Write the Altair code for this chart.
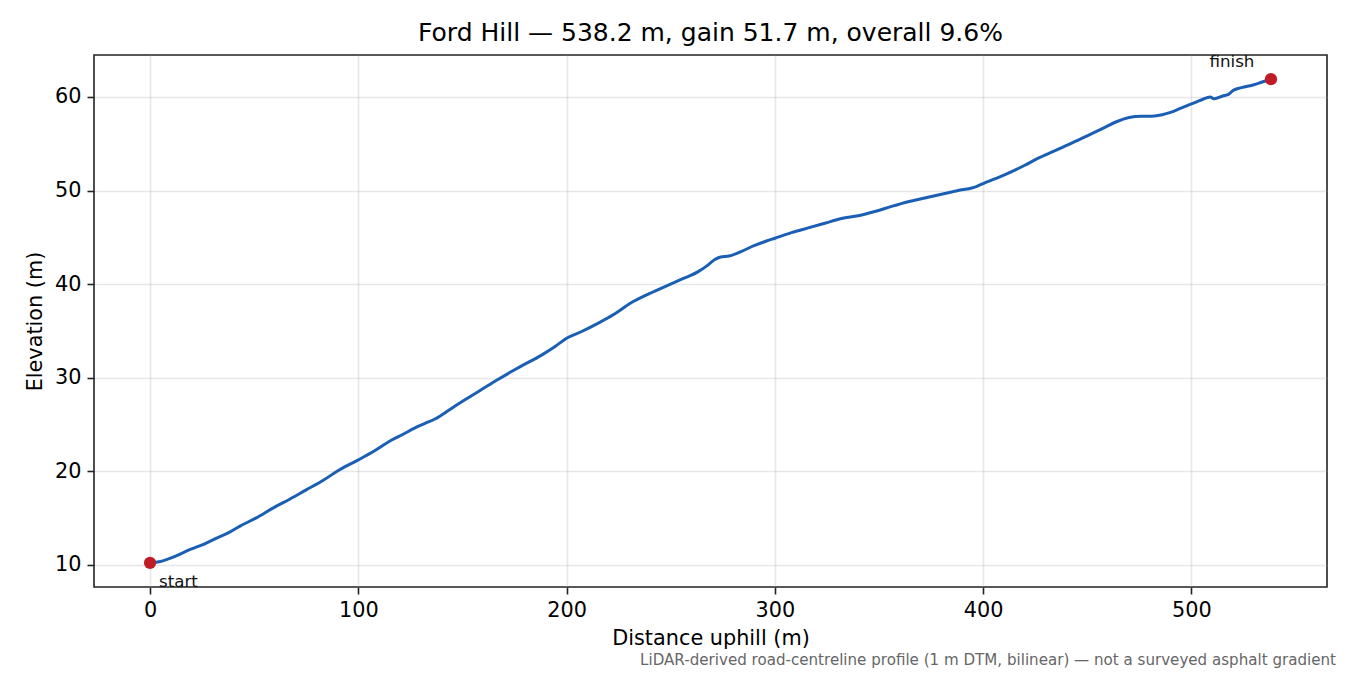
import pandas as pd
import altair as alt

# distance along the road (m) and elevation (m)
distance = [0, 5, 12, 19, 26, 32, 38, 43, 51, 59, 67, 75, 83, 91, 100, 108, 115,
            122, 127, 132, 137, 144, 151, 159, 167, 174, 178, 188, 195, 200, 207,
            215, 223, 231, 239, 247, 255, 263, 268, 271, 274, 278, 284, 290, 296,
            300, 308, 316, 324, 332, 340, 348, 356, 364, 372, 380, 388, 395, 397,
            401, 408, 415, 420, 426, 434, 442, 450, 458, 464, 470, 476, 481, 486,
            490, 495, 500, 505, 509, 511, 515, 518, 520, 524, 530, 534, 538.2]
elevation = [10.2, 10.35, 10.9, 11.6, 12.2, 12.85, 13.45, 14.1, 15.0, 16.05, 17.0,
             18.0, 19.0, 20.15, 21.2, 22.2, 23.2, 24.0, 24.6, 25.1, 25.6, 26.6,
             27.6, 28.7, 29.8, 30.7, 31.2, 32.4, 33.4, 34.2, 34.9, 35.8, 36.8,
             38.0, 38.9, 39.7, 40.5, 41.3, 42.05, 42.6, 42.9, 43.0, 43.5, 44.1,
             44.6, 44.9, 45.5, 46.0, 46.5, 47.0, 47.3, 47.75, 48.3, 48.8, 49.2,
             49.6, 50.0, 50.3, 50.45, 50.85, 51.45, 52.15, 52.7, 53.4, 54.2, 55.0,
             55.85, 56.7, 57.35, 57.8, 57.95, 57.95, 58.1, 58.35, 58.8, 59.25,
             59.7, 60.0, 59.8, 60.1, 60.3, 60.7, 61.0, 61.3, 61.6, 61.9]

end_labels = ["start", "finish"]
footnote = "LiDAR-derived road-centreline profile (1 m DTM, bilinear) — not a surveyed asphalt gradient"
title = "Ford Hill — 538.2 m, gain 51.7 m, overall 9.6%"

profile = pd.DataFrame({"d": distance, "z": elevation})
ends = pd.DataFrame({"d": [distance[0], distance[-1]],
                     "z": [elevation[0], elevation[-1]],
                     "label": end_labels})

FONT = "DejaVu Sans"
W, H = 1233, 532

x_scale = alt.Scale(domain=[-26.91, 565.11], nice=False, zero=False)
y_scale = alt.Scale(domain=[7.615, 64.485], nice=False, zero=False)

x_axis = alt.Axis(values=[0, 100, 200, 300, 400, 500], title="Distance uphill (m)",
                  titleX=W / 2, titleY=57, titleBaseline="alphabetic")
y_axis = alt.Axis(values=[10, 20, 30, 40, 50, 60], title="Elevation (m)",
                  titleX=-53, titleY=H / 2, titleBaseline="alphabetic")

base = alt.Chart(profile).encode(
    alt.X("d:Q", scale=x_scale, axis=x_axis),
    alt.Y("z:Q", scale=y_scale, axis=y_axis),
)

line = base.mark_line(color="#1a5fb4", strokeWidth=3, interpolate="monotone")

dots = alt.Chart(ends).mark_circle(color="#c01c28", size=150, opacity=1).encode(
    x="d:Q", y="z:Q")

start_txt = alt.Chart(ends[ends.label == "start"]).mark_text(
    align="left", baseline="alphabetic", dx=9, dy=24, fontSize=16.7, font=FONT,
    color="#111").encode(x="d:Q", y="z:Q", text="label:N")
finish_txt = alt.Chart(ends[ends.label == "finish"]).mark_text(
    align="center", baseline="alphabetic", dx=-39, dy=-12, fontSize=16.7, font=FONT,
    color="#111").encode(x="d:Q", y="z:Q", text="label:N")

note = alt.Chart(pd.DataFrame({"t": [footnote]})).mark_text(
    align="right", baseline="alphabetic", fontSize=15.1, font=FONT, color="#666666"
).encode(x=alt.value(W + 9), y=alt.value(H + 78), text="t:N")

chart = (line + dots + start_txt + finish_txt + note).properties(
    width=W, height=H,
    title=alt.TitleParams(title, fontSize=25, font=FONT, fontWeight="normal",
                          color="black", anchor="middle", baseline="alphabetic",
                          offset=13, dy=25),
    autosize=alt.AutoSizeParams(type="none"),
    padding={"left": 86, "top": 47, "right": 12, "bottom": 85},
).configure_view(
    stroke="#222222", strokeWidth=1.6
).configure_axis(
    domain=False, grid=True, gridColor="#b0b0b0", gridOpacity=0.3, gridWidth=1.6,
    tickColor="#222222", tickSize=7, tickWidth=1.6, labelPadding=6,
    labelFont=FONT, labelFontSize=20.8, labelColor="black",
    titleFont=FONT, titleFontSize=20.8, titleFontWeight="normal", titleColor="black",
)

chart.save("out.html", embed_options={"renderer": "svg", "actions": False})
